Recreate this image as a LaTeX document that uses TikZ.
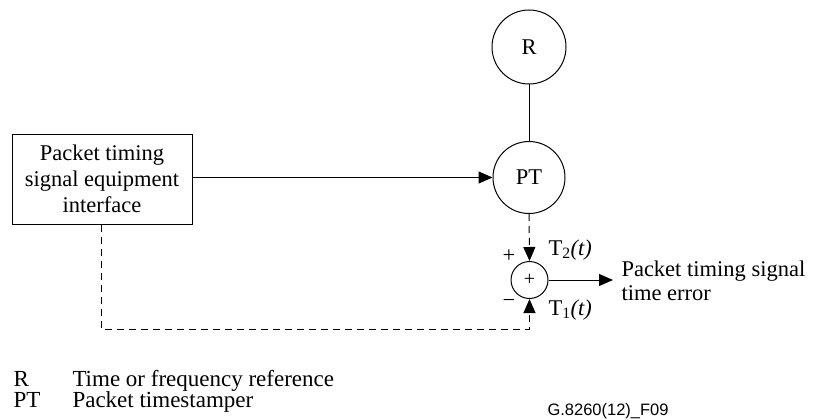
\documentclass[tikz,border=0pt]{standalone}
\usepackage{fontspec}
\setmainfont{Liberation Serif}
\setsansfont{Liberation Sans}
\usetikzlibrary{arrows.meta}
\begin{document}
\begin{tikzpicture}[x=1pt,y=-1pt,line width=1pt,
  font=\fontsize{22.5}{26}\selectfont,
  circ/.style={draw,circle,minimum size=#1,inner sep=0pt},
  tip/.style={-{Triangle[length=14pt,width=12pt]}},
  dsh/.style={dash pattern=on 7pt off 5pt},
  lbl/.style={inner sep=0pt,anchor=base west}]
\useasboundingbox (0,0) rectangle (814,420);

% blocks
\node[circ=74pt] (R) at (529,47) {R};
\node[circ=72pt] (PT) at (529,177.5) {PT};
\node[draw,minimum width=180pt,minimum height=90pt,inner sep=0pt,align=center] (box) at (102,179)
  {Packet timing\\signal equipment\\interface};
\node[circ=37pt] (sum) at (529.5,280) {\fontsize{20}{20}\selectfont +};

% connectors
\draw (R) -- (PT);
\draw[tip] (box.east |- PT.west) -- (PT.west);
\draw[tip,dsh] (PT.south) -- (sum.north);
\coordinate (corner) at (101,329);
\coordinate (below) at (529.5,329);
\draw[tip,dsh] (box.south -| corner) -- (corner) -- (below) -- (sum.south);
\coordinate (out) at (613,280);
\draw[tip] (sum.east) -- (out);

% signs and signal names
\node[anchor=center,inner sep=0pt] (plus) at (509,256) {+};
\node[anchor=center,inner sep=0pt] (minus) at (509,303) {\textminus};
\node[lbl] (t2) at (548,255) {T\textsubscript{2}\textit{(t)}};
\node[lbl] (t1) at (548,315) {T\textsubscript{1}\textit{(t)}};
\node[lbl] (err1) at (621,276) {Packet timing signal};
\node[lbl] (err2) at (621,300) {time error};

% legend
\begin{scope}[font=\fontsize{23}{23}\selectfont]
\node[lbl] (kR) at (13,386) {R};
\node[lbl] (dR) at (72,386) {Time or frequency reference};
\node[lbl] (kPT) at (13,407) {PT};
\node[lbl] (dPT) at (72,407) {Packet timestamper};
\end{scope}
\node[lbl,font=\sffamily\fontsize{16.5}{16.5}\selectfont] (ref) at (547,415.5) {G.8260(12)\_F09};
\end{tikzpicture}
\end{document}
